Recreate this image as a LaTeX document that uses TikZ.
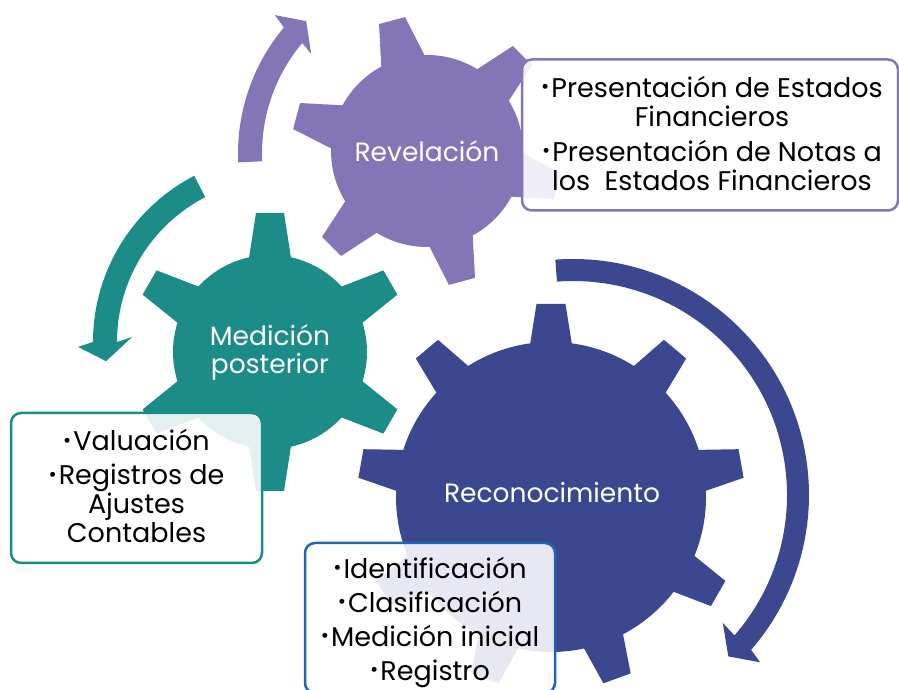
\documentclass[tikz,border=0pt]{standalone}
\usepackage{fontspec}
\setmainfont{Poppins}
\definecolor{gpurple}{RGB}{132,117,183}
\definecolor{gteal}{RGB}{27,140,135}
\definecolor{gnavy}{RGB}{59,72,144}
\definecolor{bblue}{RGB}{33,101,178}
\newcommand\bul{{\fontsize{20pt}{20pt}\selectfont\raisebox{0.3ex}{\textbullet}}\hspace{2pt}}
\newcommand\drawgear[9]{%
  \begin{scope}[shift={(#1,#2)}]
    \fill[#9] (0,0) circle[radius=#3pt];
    \pgfmathsetmacro\gstep{360/#8}
    \foreach \k in {1,...,#8}{
      \fill[#9, rotate={#7+(\k-1)*\gstep}] ({#3-6},{-#6}) -- (#4,{-#5}) -- (#4,#5) -- ({#3-6},#6) -- cycle;
    }
  \end{scope}}
\tikzset{
  gearlabel/.style={text=white, font=\fontsize{26.5pt}{28pt}\selectfont, align=center, inner sep=0pt},
  infobox/.style={line width=2.5pt, rounded corners=10pt, fill=white, fill opacity=0.88, inner sep=0pt},
  boxtext/.style={align=center, inner sep=0pt, text=black, font=\fontsize{27pt}{29pt}\selectfont},
}
\begin{document}
\begin{tikzpicture}[x=1pt,y=1pt]
\useasboundingbox (0,0) rectangle (899,690);
% arrows
\fill[gpurple, shift={(434,536.5)}] (182.6:196pt) arc[start angle=182.6, end angle=140, radius=196pt]
  -- (139:211pt) -- (134:184pt) -- (141:158pt) -- (140:172pt)
  arc[start angle=140, end angle=182.6, radius=172pt] -- cycle;
\fill[gteal, shift={(280,348)}] (117.3:187pt) arc[start angle=117.3, end angle=180, radius=187pt]
  -- (181.4:202pt) -- (186.3:175pt) -- (178.1:148pt) -- (180:163pt)
  arc[start angle=180, end angle=117.3, radius=163pt] -- cycle;
\fill[gnavy, shift={(573,195)}] (94.3:236pt) arc[start angle=94.3, end angle=-41, radius=236pt]
  -- (-41.8:251pt) -- (-46.1:224pt) -- (-40.5:197pt) -- (-41:214pt)
  arc[start angle=-41, end angle=94.3, radius=214pt] -- cycle;
% gears
\drawgear{427}{539}{96}{135}{13.5}{23}{105}{6}{gpurple}
\drawgear{270}{338}{97}{139}{14}{21.5}{90}{6}{gteal}
\drawgear{551}{193}{155}{193}{14.5}{21.5}{90}{9}{gnavy}
% gear labels
\node[gearlabel] (rev) at (427,539) {Revelación};
\node[gearlabel] (med) at (270,338) {Medición\\posterior};
\node[gearlabel] (rec) at (552,197) {Reconocimiento};
% boxes
\node[infobox, draw=gpurple, minimum width=376pt, minimum height=151pt] (revbox) at (710,555) {};
\node[boxtext] (revtext) at (712,557)
  {\bul Presentación de Estados\\Financieros\\[6pt]\bul Presentación de Notas a\\los\ \ Estados Financieros};
\node[infobox, draw=gteal, minimum width=251pt, minimum height=150pt] (medbox) at (136.5,202) {};
\node[boxtext] (medtext) at (136.5,204)
  {\bul Valuación\\[5pt]\bul Registros de\\Ajustes\\Contables};
\node[infobox, draw=bblue, minimum width=250pt, minimum height=150pt] (recbox) at (430,72) {};
\node[boxtext] (rectext) at (430,68)
  {\bul Identificación\\[5pt]\bul Clasificación\\[5pt]\bul Medición inicial\\[5pt]\bul Registro};
\end{tikzpicture}
\end{document}
